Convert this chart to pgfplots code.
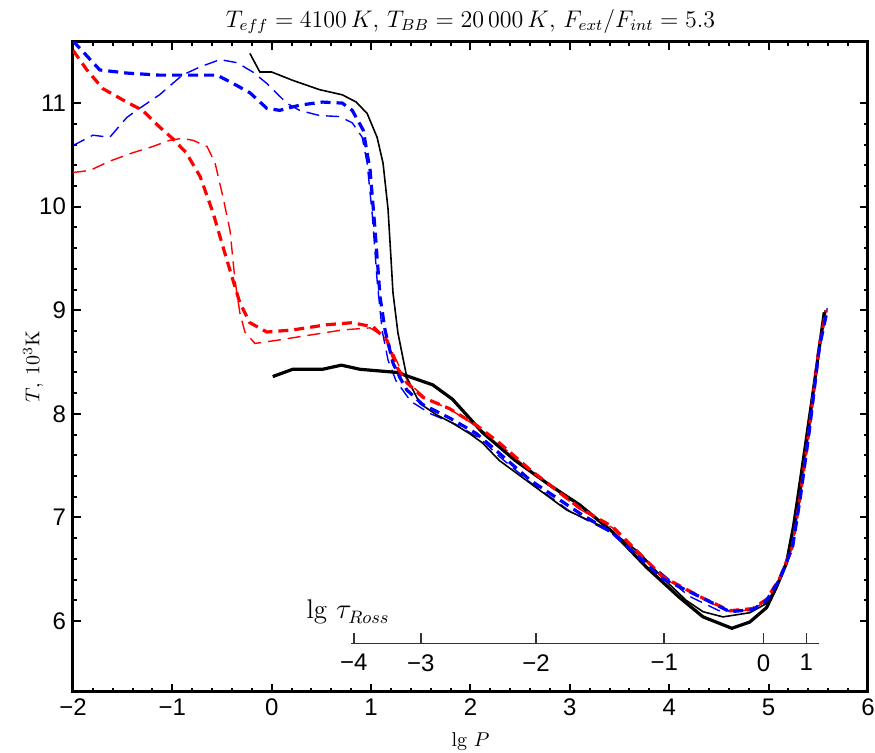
\documentclass[border=0pt]{standalone}
\usepackage{fontspec}
\usepackage{pgfplots}
\pgfplotsset{compat=1.18}
\newfontfamily\ticks{Liberation Sans}
\begin{document}
\begin{tikzpicture}
\useasboundingbox (-36.5pt,-30.5pt) rectangle (401pt,346pt);
\begin{axis}[scale only axis, width=397.5pt, height=325pt,
 xmin=-2, xmax=6, ymin=5.315, ymax=11.59,
 xtick={-2,-1,0,1,2,3,4,5,6}, xticklabels={−2,−1,0,1,2,3,4,5,6},
 ytick={6,7,8,9,10,11}, yticklabels={6,7,8,9,10,11},
 minor x tick num=4, minor y tick num=4, tick align=inside,
 major tick length=4pt, minor tick length=2pt,
 every tick/.style={line width=1pt, black},
 axis line style={line width=1.5pt},
 tick label style={font=\fontsize{12}{14}\selectfont\ticks},
 xlabel={lg $P$}, ylabel={$T$, $10^3$K},
 label style={font=\fontsize{10}{12}\selectfont},
 xlabel style={at={(axis description cs:0.5,-0.0769)}, anchor=center},
 ylabel style={at={(axis description cs:-0.05,0.5)}, anchor=center},
 title={$T_{eff}=4100\,K$, $T_{BB}=20\,000\,K$, $F_{ext}/F_{int}=5.3$},
 title style={font=\fontsize{12}{14}\selectfont, at={(axis description cs:0.5,1.0046)}, anchor=base},
]
% thin red dashed
\addplot[red, line width=0.7pt, dash pattern=on 6.5pt off 3.5pt] coordinates {
(-2.0,10.33)(-1.83,10.35)(-1.63,10.44)(-1.40,10.52)(-1.20,10.58)(-1.03,10.64)(-0.90,10.66)(-0.79,10.64)(-0.65,10.58)(-0.57,10.42)(-0.49,10.09)(-0.42,9.77)(-0.37,9.29)(-0.32,8.97)(-0.27,8.79)(-0.17,8.68)(0.05,8.71)(0.38,8.76)(0.71,8.81)(0.99,8.83)(1.14,8.74)(1.22,8.59)(1.30,8.42)(1.40,8.28)(1.55,8.15)(1.80,8.04)(2.06,7.88)(2.30,7.70)(2.60,7.45)(3.10,7.08)(3.43,6.90)(3.93,6.42)(4.34,6.21)(4.61,6.09)(4.84,6.11)(4.98,6.20)(5.11,6.40)(5.24,6.71)(5.32,7.21)(5.41,7.85)(5.51,8.65)(5.58,9.0)};
% thin blue dashed
\addplot[blue, line width=0.7pt, dash pattern=on 6.5pt off 3.5pt] coordinates {
(-2.0,10.59)(-1.80,10.69)(-1.63,10.67)(-1.46,10.86)(-1.36,10.93)(-1.13,11.08)(-0.90,11.27)(-0.72,11.35)(-0.52,11.42)(-0.35,11.39)(-0.19,11.30)(-0.05,11.19)(0.15,11.0)(0.28,10.93)(0.48,10.88)(0.68,10.87)(0.81,10.81)(0.91,10.67)(0.96,10.42)(1.01,9.94)(1.06,9.29)(1.11,8.81)(1.17,8.52)(1.25,8.32)(1.40,8.12)(1.60,8.0)(1.85,7.9)(2.10,7.76)(2.30,7.58)(2.60,7.34)(3.00,7.06)(3.40,6.86)(3.80,6.56)(4.20,6.24)(4.50,6.10)(4.80,6.10)(5.00,6.20)(5.11,6.40)(5.24,6.72)(5.32,7.22)(5.41,7.86)(5.51,8.66)(5.59,9.02)};
% thin black
\addplot[black, line width=0.8pt] coordinates {
(-0.22,11.48)(-0.12,11.30)(0.0,11.30)(0.21,11.22)(0.48,11.13)(0.71,11.08)(0.85,11.01)(0.96,10.90)(1.06,10.67)(1.12,10.42)(1.17,9.98)(1.20,9.50)(1.22,9.17)(1.27,8.78)(1.36,8.35)(1.49,8.10)(1.66,7.99)(1.82,7.91)(1.99,7.81)(2.12,7.72)(2.29,7.55)(2.63,7.31)(2.97,7.07)(3.40,6.88)(3.70,6.66)(3.93,6.42)(4.17,6.20)(4.34,6.09)(4.54,6.04)(4.81,6.08)(4.98,6.17)(5.08,6.34)(5.18,6.58)(5.25,6.93)(5.32,7.38)(5.44,8.18)(5.57,9.0)};
% thick black
\addplot[black, line width=1.6pt] coordinates {
(0.01,8.36)(0.21,8.43)(0.51,8.43)(0.70,8.47)(0.89,8.43)(1.26,8.40)(1.62,8.28)(1.82,8.14)(2.12,7.82)(2.45,7.55)(2.77,7.33)(3.10,7.12)(3.43,6.86)(3.77,6.52)(4.10,6.23)(4.34,6.04)(4.63,5.93)(4.81,5.99)(4.98,6.13)(5.08,6.33)(5.18,6.56)(5.25,6.91)(5.32,7.36)(5.44,8.16)(5.56,8.98)};
% thick red dashed
\addplot[red, line width=1.6pt, dash pattern=on 5pt off 3pt] coordinates {
(-2.0,11.51)(-1.86,11.32)(-1.70,11.14)(-1.46,11.01)(-1.30,10.93)(-1.13,10.77)(-1.0,10.66)(-0.86,10.52)(-0.72,10.29)(-0.59,9.94)(-0.49,9.61)(-0.39,9.29)(-0.32,9.07)(-0.22,8.88)(-0.05,8.79)(0.21,8.81)(0.55,8.86)(0.81,8.88)(1.02,8.84)(1.16,8.71)(1.22,8.55)(1.26,8.45)(1.36,8.30)(1.52,8.16)(1.79,8.05)(2.06,7.89)(2.29,7.72)(2.60,7.46)(3.10,7.09)(3.43,6.91)(3.93,6.43)(4.34,6.22)(4.61,6.10)(4.84,6.12)(4.98,6.21)(5.11,6.41)(5.24,6.72)(5.32,7.22)(5.41,7.86)(5.51,8.66)(5.58,9.0)};
% thick blue dashed
\addplot[blue, line width=1.6pt, dash pattern=on 5pt off 3pt] coordinates {
(-2.0,11.6)(-1.73,11.32)(-1.46,11.29)(-1.13,11.27)(-0.55,11.27)(-0.39,11.19)(-0.22,11.10)(-0.05,10.95)(0.08,10.93)(0.28,10.98)(0.51,11.01)(0.71,11.0)(0.81,10.93)(0.92,10.74)(0.99,10.35)(1.04,9.77)(1.09,9.13)(1.14,8.81)(1.22,8.49)(1.29,8.35)(1.36,8.23)(1.52,8.09)(1.79,7.96)(2.06,7.81)(2.29,7.62)(2.60,7.36)(3.10,7.04)(3.43,6.85)(3.93,6.41)(4.34,6.22)(4.61,6.09)(4.84,6.11)(4.98,6.20)(5.11,6.40)(5.24,6.71)(5.32,7.20)(5.41,7.84)(5.51,8.64)(5.59,9.0)};
% lg tau_Ross axis
\draw[line width=0.8pt, black!80] (axis cs:0.80,5.785) -- (axis cs:5.51,5.785);
\draw[line width=0.8pt, black!80] (axis cs:0.825,5.785) -- (axis cs:0.825,5.88);
\draw[line width=0.8pt, black!80] (axis cs:1.50,5.785) -- (axis cs:1.50,5.88);
\draw[line width=0.8pt, black!80] (axis cs:2.66,5.785) -- (axis cs:2.66,5.88);
\draw[line width=0.8pt, black!80] (axis cs:3.95,5.785) -- (axis cs:3.95,5.88);
\draw[line width=0.8pt, black!80] (axis cs:4.95,5.785) -- (axis cs:4.95,5.88);
\draw[line width=0.8pt, black!80] (axis cs:5.38,5.785) -- (axis cs:5.38,5.88);
\node[anchor=north, yshift=-2pt, font=\fontsize{12}{14}\selectfont\ticks] at (axis cs:0.825,5.785) {−4};
\node[anchor=north, yshift=-2pt, font=\fontsize{12}{14}\selectfont\ticks] at (axis cs:1.50,5.785) {−3};
\node[anchor=north, yshift=-2pt, font=\fontsize{12}{14}\selectfont\ticks] at (axis cs:2.66,5.785) {−2};
\node[anchor=north, yshift=-2pt, font=\fontsize{12}{14}\selectfont\ticks] at (axis cs:3.95,5.785) {−1};
\node[anchor=north, yshift=-2pt, font=\fontsize{12}{14}\selectfont\ticks] at (axis cs:4.95,5.785) {0};
\node[anchor=north, yshift=-2pt, font=\fontsize{12}{14}\selectfont\ticks] at (axis cs:5.38,5.785) {1};
\node[anchor=base west, font=\fontsize{13.5}{15}\selectfont] at (axis cs:0.28,6.02) {lg $\tau_{Ross}$};
\end{axis}
\end{tikzpicture}
\end{document}
